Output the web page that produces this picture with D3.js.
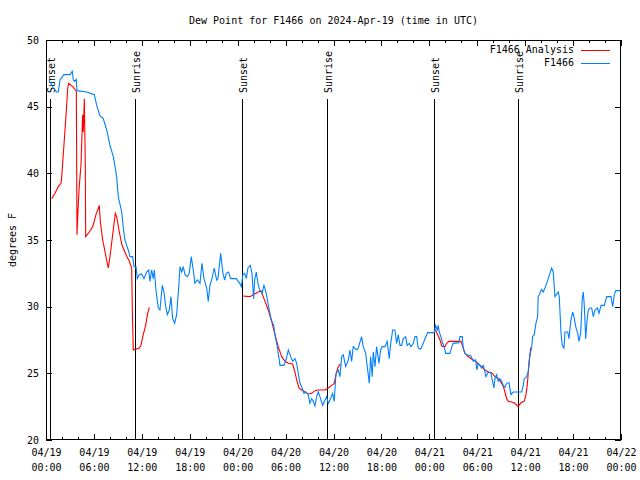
<!DOCTYPE html>
<html><head><meta charset="utf-8">
<script src="https://cdn.jsdelivr.net/npm/d3@7"></script>
<style>
html,body{margin:0;padding:0;background:#fff;}
svg{display:block;}
text{font-family:"DejaVu Sans Mono","Liberation Mono",monospace;font-size:10px;fill:#000;}
</style></head>
<body>
<svg id="chart" width="640" height="480"></svg>
<script>
const title = "Dew Point for F1466 on 2024-Apr-19 (time in UTC)";
const yLabel = "degrees F";
const seriesNames = ["F1466 Analysis", "F1466"];
const seriesColors = ["#ff0000", "#0080ff"];
const yTicks = [20, 25, 30, 35, 40, 45, 50];

// hours since 2024-04-19 00:00 UTC
const blueHours = [0.38,0.91,1.34,1.54,1.75,2.25,3.00,3.29,3.42,3.59,3.79,3.88,5.10,6.05,6.35,6.76,7.17,7.60,8.01,8.43,8.85,9.05,9.48,9.68,9.89,10.10,10.30,10.52,10.85,11.02,11.27,11.43,11.68,11.98,12.27,12.61,12.86,13.02,13.23,13.43,13.56,13.77,14.06,14.27,14.56,14.77,14.99,15.19,15.44,15.65,15.86,16.11,16.36,16.61,16.78,16.99,17.19,17.40,17.69,17.94,18.19,18.44,18.65,18.94,19.28,19.53,19.78,20.12,20.32,20.53,20.78,21.07,21.37,21.53,21.87,22.16,22.37,22.57,22.87,23.12,23.29,23.82,24.25,24.45,24.66,24.88,25.08,25.29,25.58,25.79,26.00,26.13,26.33,26.54,26.75,27.04,27.29,27.58,27.79,28.01,28.21,28.51,28.71,28.96,29.30,29.80,30.05,30.34,30.64,30.89,31.17,31.39,31.59,31.80,32.01,32.30,32.55,32.84,33.05,33.27,33.47,33.68,33.89,34.09,34.30,34.64,34.93,35.14,35.34,35.56,35.89,36.09,36.31,36.60,36.81,37.02,37.22,37.52,37.85,38.06,38.27,38.47,38.90,39.10,39.52,39.72,40.03,40.23,40.48,40.65,40.85,40.98,41.19,41.40,41.69,41.90,42.10,42.44,42.73,42.98,43.16,43.41,43.69,43.91,44.11,44.32,44.53,44.73,45.03,45.23,45.48,45.70,45.99,46.20,46.41,46.61,46.91,47.24,47.45,47.79,48.62,48.79,48.99,49.11,49.24,49.45,49.67,49.87,50.04,50.58,50.79,50.99,51.71,51.83,52.12,52.25,52.46,52.67,53.21,53.50,53.80,53.96,54.12,54.34,54.55,54.75,54.96,55.09,55.38,55.72,55.88,56.09,56.21,56.43,56.63,56.84,57.05,57.25,57.47,57.68,57.97,58.22,58.51,59.56,59.76,59.88,60.18,60.38,60.47,60.60,60.81,60.93,61.13,61.35,61.56,61.63,61.76,62.06,62.26,62.48,62.69,62.89,63.10,63.31,63.52,63.73,64.14,64.27,64.48,64.64,64.86,64.98,65.32,65.49,65.70,65.95,66.11,66.33,66.58,66.74,66.95,67.15,67.28,67.40,67.58,67.74,67.90,68.12,68.33,68.53,68.75,69.04,69.25,69.50,69.91,70.21,70.75,70.96,71.16,71.34,71.96];
const blueTemps = [47.0,46.4,46.1,46.1,47.0,47.4,47.4,47.65,47.0,46.9,47.05,46.2,46.1,45.9,45.1,44.3,44.1,43.25,42.1,41.25,39.75,38.25,37.1,35.9,35.0,34.6,34.25,33.75,33.75,33.0,33.0,32.1,32.4,32.45,32.1,32.6,32.75,31.9,32.75,32.1,32.75,31.25,29.9,29.75,31.6,31.1,30.0,29.4,29.75,30.75,29.1,28.75,29.4,31.4,33.0,32.6,33.0,32.4,32.25,32.5,33.75,32.75,31.75,32.0,31.75,33.25,32.1,31.4,30.4,31.6,32.1,32.9,32.0,32.1,34.0,32.5,32.0,32.5,32.6,32.1,32.1,32.1,31.75,31.5,32.4,32.5,32.1,32.9,33.1,32.5,30.6,32.0,32.6,31.75,31.25,31.0,31.6,31.0,30.25,29.6,29.0,28.6,27.75,27.0,25.6,25.6,26.0,26.75,26.25,25.9,26.1,25.75,25.0,24.25,24.0,23.5,23.6,23.4,22.75,23.1,22.9,22.55,23.25,23.6,23.25,22.6,23.0,23.25,22.75,23.0,23.5,22.9,25.0,25.25,24.75,26.25,26.4,25.5,26.0,26.75,25.9,27.0,26.75,26.9,27.75,27.0,26.5,25.5,24.25,26.25,24.75,26.6,25.5,27.0,25.75,26.75,27.0,27.0,27.4,26.1,27.25,28.25,28.25,27.25,27.9,27.1,27.1,27.6,27.75,27.1,27.25,27.0,27.25,27.75,27.75,26.9,26.8,27.25,27.6,28.05,28.05,28.6,28.25,28.6,28.1,27.75,27.25,27.0,26.5,26.5,26.95,27.25,27.3,27.75,27.75,26.9,26.5,26.4,26.3,25.9,26.0,25.25,25.75,25.6,25.4,25.6,25.1,24.75,25.1,25.0,24.5,23.9,24.6,24.9,24.4,24.6,24.4,24.1,23.95,24.25,24.3,23.4,23.6,23.6,24.1,24.6,24.75,25.1,25.75,26.4,26.9,27.75,27.9,28.75,29.25,30.75,30.9,31.3,31.1,31.4,31.75,32.1,32.5,32.9,32.6,30.75,31.1,30.75,28.1,27.1,26.9,28.1,28.1,27.6,28.9,29.6,29.25,28.5,28.0,27.4,28.0,30.6,31.1,30.1,27.6,28.9,29.75,29.9,29.9,29.25,29.75,29.9,29.5,30.1,30.1,30.75,30.75,30.0,30.9,31.2,31.2];

// null marks a gap in the analysis series
const redHours = [0.71,1.13,1.54,1.88,1.97,2.09,2.29,2.47,2.59,2.72,2.84,3.34,3.76,3.80,3.88,4.04,4.17,4.38,4.59,4.67,4.80,4.92,4.97,5.42,5.85,6.26,6.67,6.80,7.10,7.51,7.80,8.01,8.35,8.68,8.85,9.18,9.52,10.02,10.43,10.73,10.81,10.93,11.68,11.89,12.18,12.48,12.73,12.93,
  null,
  24.6,25.54,25.95,26.58,26.92,27.42,27.83,28.26,28.67,29.08,29.51,29.93,30.34,30.89,31.17,31.39,31.68,32.01,32.43,32.84,33.27,33.68,34.09,34.93,35.34,35.77,36.09,36.31,36.53,36.73,36.90,
  null,
  48.71,49.05,49.34,49.55,49.75,49.96,50.17,50.46,51.21,51.97,52.12,52.46,52.80,53.21,53.72,54.13,54.55,54.97,55.38,55.80,56.22,56.63,56.84,57.05,57.25,57.47,57.68,57.88,58.30,58.71,59.13,59.47,59.88,60.10,60.26,60.38,60.51,60.69,60.81];
const redTemps = [38.1,38.5,39.0,39.25,39.75,40.75,42.5,44.0,45.1,46.4,46.75,46.5,46.2,46.1,35.4,37.6,39.1,40.6,44.4,43.1,45.6,40.6,35.25,35.6,36.0,36.9,37.6,36.4,35.0,33.75,32.9,33.75,35.4,37.0,36.75,35.6,34.6,33.9,33.4,32.9,29.75,26.75,26.9,27.1,27.9,28.6,29.5,29.95,
  null,
  30.8,30.75,30.9,31.1,31.2,30.4,29.75,28.9,27.9,27.0,26.25,25.9,25.75,25.7,25.1,24.5,23.9,23.75,23.6,23.45,23.5,23.7,23.75,23.75,23.9,24.1,24.25,24.9,25.4,25.6,25.7,
  null,
  28.3,27.9,27.5,27.05,27.0,27.0,27.25,27.4,27.4,27.4,27.1,26.5,26.3,26.1,25.95,25.7,25.5,25.25,25.1,25.05,24.75,24.6,24.45,24.25,24.05,23.6,23.1,22.9,22.85,22.75,22.5,22.8,22.9,23.4,24.1,25.0,25.9,26.9,26.9];

const sunHours = [0.5, 11.14, 24.54, 35.19, 48.58, 59.1];
const sunLabels = ["Sunset", "Sunrise", "Sunset", "Sunrise", "Sunset", "Sunrise"];

const base = Date.UTC(2024, 3, 19, 0, 0, 0);
const toDate = h => new Date(base + h * 3600e3);

const margin = {left: 46, right: 19, top: 40, bottom: 40};
const W = 640, H = 480;
const x0 = margin.left, x1 = W - margin.right, y0 = margin.top, y1 = H - margin.bottom;

const svg = d3.select("#chart");
const x = d3.scaleUtc().domain([toDate(0), toDate(72)]).range([x0, x1]);
const y = d3.scaleLinear().domain([20, 50]).range([y1, y0]);

const majorTicks = d3.utcHour.every(6).range(toDate(0), toDate(72.01));
const minorTicks = d3.utcHour.every(2).range(toDate(0), toDate(72.01));
const fmtDate = d3.utcFormat("%m/%d"), fmtTime = d3.utcFormat("%H:%M");

// bottom axis (labels + major ticks)
const gB = svg.append("g").attr("transform", `translate(0,${y1})`)
  .call(d3.axisBottom(x).tickValues(majorTicks).tickSize(-6).tickPadding(9).tickFormat(d => fmtDate(d)));
gB.selectAll(".tick text").each(function(d){
  const t = d3.select(this); t.text(null);
  t.append("tspan").attr("x", 0).attr("dy", "0.71em").text(fmtDate(d));
  t.append("tspan").attr("x", 0).attr("dy", "1.5em").text(fmtTime(d));
});
svg.append("g").attr("transform", `translate(0,${y1})`)
  .call(d3.axisBottom(x).tickValues(minorTicks).tickSize(-3).tickFormat(""));
// top mirror
svg.append("g").attr("transform", `translate(0,${y0})`)
  .call(d3.axisTop(x).tickValues(majorTicks).tickSize(-6).tickFormat(""));
svg.append("g").attr("transform", `translate(0,${y0})`)
  .call(d3.axisTop(x).tickValues(minorTicks).tickSize(-3).tickFormat(""));
// left / right
svg.append("g").attr("transform", `translate(${x0},0)`)
  .call(d3.axisLeft(y).tickValues(yTicks).tickSize(-6).tickPadding(7).tickFormat(d3.format("d")));
svg.append("g").attr("transform", `translate(${x1},0)`)
  .call(d3.axisRight(y).tickValues(yTicks).tickSize(-6).tickFormat(""));

svg.selectAll(".domain").remove();
svg.selectAll(".tick line").attr("stroke", "#000").attr("shape-rendering", "crispEdges");
svg.selectAll(".tick text").attr("font-family", "DejaVu Sans Mono").attr("font-size", 10).attr("fill", "#000");

// border
svg.append("rect").attr("x", x0 + 0.5).attr("y", y0 + 0.5)
  .attr("width", x1 - x0 - 1).attr("height", y1 - y0 - 1)
  .attr("fill", "none").attr("stroke", "#000").attr("shape-rendering", "crispEdges");

// sun lines
sunHours.forEach((h, i) => {
  const xp = Math.round(x(toDate(h))) + 0.5;
  svg.append("line").attr("x1", xp).attr("x2", xp).attr("y1", 99).attr("y2", y1)
    .attr("stroke", "#000").attr("stroke-width", 1).attr("shape-rendering", "crispEdges");
  svg.append("text").attr("transform", `translate(${xp + 4},93) rotate(-90)`)
    .attr("text-anchor", "start").text(sunLabels[i]);
});

// series
const line = d3.line()
  .defined((d) => d[1] !== null)
  .x(d => x(toDate(d[0]))).y(d => y(d[1]));
const redData = redHours.map((h, i) => [h, redTemps[i]]);
const blueData = blueHours.map((h, i) => [h, blueTemps[i]]);
svg.append("path").datum(redData).attr("d", line)
  .attr("fill", "none").attr("stroke", seriesColors[0]).attr("stroke-width", 1.1);
svg.append("path").datum(blueData).attr("d", line)
  .attr("fill", "none").attr("stroke", seriesColors[1]).attr("stroke-width", 1.1);

// legend
seriesNames.forEach((n, i) => {
  const ly = 49.5 + i * 13;
  svg.append("text").attr("x", 574).attr("y", ly).attr("dy", "0.35em")
    .attr("text-anchor", "end").text(n);
  svg.append("line").attr("x1", 581).attr("x2", 610).attr("y1", Math.round(ly) + 0.5).attr("y2", Math.round(ly) + 0.5)
    .attr("stroke", seriesColors[i]).attr("stroke-width", 1);
});

// title & y label
svg.append("text").attr("x", (x0 + x1) / 2).attr("y", 20).attr("dy", "0.35em")
  .attr("text-anchor", "middle").text(title);
svg.append("text").attr("transform", `translate(12,${(y0 + y1) / 2}) rotate(-90)`)
  .attr("text-anchor", "middle").attr("dy", "0.35em").text(yLabel);
</script>
</body></html>
